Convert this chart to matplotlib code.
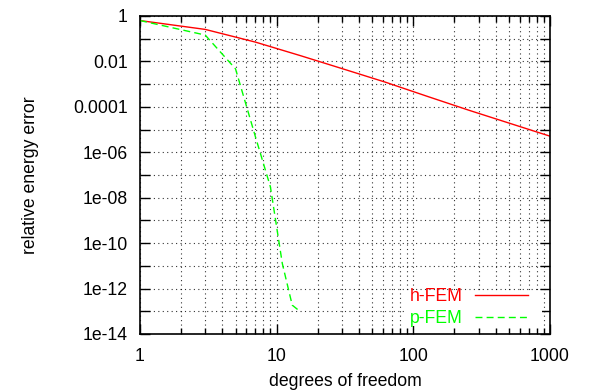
import numpy as np
import matplotlib
matplotlib.use('Agg')
import matplotlib.pyplot as plt
from matplotlib.patches import Rectangle
from matplotlib.ticker import FixedLocator, FixedFormatter, NullFormatter

plt.rcParams['font.family'] = ['Liberation Sans', 'DejaVu Sans']

# h-FEM: uniform refinement, dofs 2^k - 1
h_dof = [1, 3, 7, 15, 31, 63, 127, 255, 511, 1023]
h_err = [0.63, 0.257, 0.0708, 0.0178, 0.00457, 0.0012, 0.000288, 7.1e-05, 1.86e-05, 4.9e-06]

# p-FEM
p_dof = [1, 3, 5, 7, 9, 11, 13, 15]
p_err = [0.63, 0.145, 0.0047, 4.7e-06, 3.0e-08, 1.26e-11, 1.86e-13, 9.3e-14]

y_ticks = [1, 1e-2, 1e-4, 1e-6, 1e-8, 1e-10, 1e-12, 1e-14]
y_labels = ['1', '0.01', '0.0001', '1e-06', '1e-08', '1e-10', '1e-12', '1e-14']
x_ticks = [1, 10, 100, 1000]
x_labels = ['1', '10', '100', '1000']

fig = plt.figure(figsize=(5.89, 3.91), dpi=100)
ax = fig.add_axes([140/589, 1 - 334/391, 410/589, 318/391])

ax.plot(h_dof, h_err, color='#ff0000', lw=1.0, label='h-FEM')
ax.plot(p_dof, p_err, color='#00ff00', lw=1.0, dashes=(5, 3), label='p-FEM')

ax.set_xscale('log')
ax.set_yscale('log')
ax.set_xlim(1, 1000)
ax.set_ylim(1e-14, 1)

ax.yaxis.set_major_locator(FixedLocator(y_ticks))
ax.yaxis.set_major_formatter(FixedFormatter(y_labels))
ax.yaxis.set_minor_locator(FixedLocator([10.0**(-k) for k in range(1, 14, 2)]))
ax.yaxis.set_minor_formatter(NullFormatter())
ax.xaxis.set_major_locator(FixedLocator(x_ticks))
ax.xaxis.set_major_formatter(FixedFormatter(x_labels))
ax.xaxis.set_minor_locator(FixedLocator([m * 10.0**d for d in range(3) for m in range(2, 10)]))
ax.xaxis.set_minor_formatter(NullFormatter())

ax.tick_params(which='both', direction='in', top=True, right=True, labelsize=12.7)
ax.tick_params(which='major', length=7, width=1)
ax.tick_params(which='minor', length=4, width=1)
ax.yaxis.set_tick_params(which='minor', length=7)
ax.xaxis.set_tick_params(which='major', pad=10)
ax.yaxis.set_tick_params(which='major', pad=9)

ax.grid(True, which='both', color='black', linestyle=(0, (1, 3)), lw=0.8, alpha=0.8)
for s in ax.spines.values():
    s.set_linewidth(1.2)

# white key background (gnuplot-style opaque key)
ax.add_patch(Rectangle((0.645, 8/318), 0.355 - 8/410, 0.135 - 8/318,
                       transform=ax.transAxes, facecolor='white',
                       edgecolor='none', zorder=1.8))

ax.set_xlabel('degrees of freedom', fontsize=12.7, labelpad=6)
ax.set_ylabel('relative energy error', fontsize=12.7, labelpad=24)

leg = ax.legend(loc='lower right', bbox_to_anchor=(1 - 15/410, 0.0),
                markerfirst=False, labelcolor='linecolor',
                fontsize=12.7, frameon=False, handlelength=3.0,
                borderaxespad=0.0, borderpad=0.4, labelspacing=0.28,
                handletextpad=0.7)

fig.savefig('out.png', dpi=100)
